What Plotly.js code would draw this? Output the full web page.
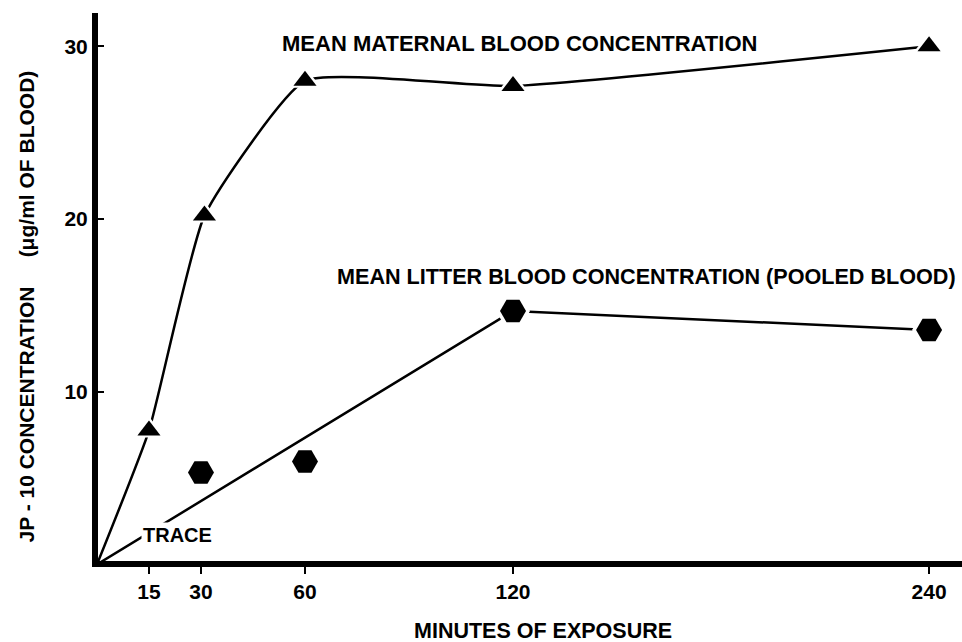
<!DOCTYPE html>
<html>
<head>
<meta charset="utf-8">
<script src="https://cdn.plot.ly/plotly-3.0.1.min.js"></script>
<style>html,body{margin:0;padding:0;background:#fff;}#chart{width:962px;height:642px;}</style>
</head>
<body>
<div id="chart"></div>
<script>
// ---- data ----
const maternalMinutes = [15, 31, 60, 120, 240];
const maternalConc    = [7.75, 20.2, 28.0, 27.7, 30.0];
const litterMinutes   = [30, 60, 120, 240];
const litterConc      = [5.33, 5.96, 14.68, 13.58];
// hand-drawn fitted lines start at the origin ("TRACE")
const originMinutes = [0];
const originConc    = [0];
const litterLineMinutes = [0, 120, 240];
const litterLineConc    = [0, 14.68, 13.58];
// tick labels
const xTickVals = [15, 30, 60, 120, 240];
const yTickVals = [10, 20, 30];
// text
const xTitle = 'MINUTES OF EXPOSURE';
const yTitle = 'JP - 10 CONCENTRATION\u00a0\u00a0\u00a0\u00a0\u00a0(\u03bcg/ml OF BLOOD)';
const maternalLabel = 'MEAN MATERNAL BLOOD CONCENTRATION';
const litterLabel = 'MEAN LITTER BLOOD CONCENTRATION (POOLED BLOOD)';
const traceLabel = 'TRACE';

const FAMILY = '"Liberation Sans", Arial, Helvetica, sans-serif';
const boldFont = (s) => ({family: FAMILY, size: s, color: '#000', weight: 'bold'});

const traces = [
  { // maternal smooth curve
    x: originMinutes.concat(maternalMinutes),
    y: originConc.concat(maternalConc),
    mode: 'lines', line: {color: '#000', width: 2.5, shape: 'spline', smoothing: 0.45},
    hoverinfo: 'skip', showlegend: false
  },
  { // litter straight line
    x: litterLineMinutes, y: litterLineConc,
    mode: 'lines', line: {color: '#000', width: 2.5},
    hoverinfo: 'skip', showlegend: false
  },
  { // white halos (gaps around markers)
    x: maternalMinutes, y: maternalConc, mode: 'markers',
    marker: {symbol: 'triangle-up', size: 28, color: '#fff'},
    hoverinfo: 'skip', showlegend: false
  },
  {
    x: litterMinutes, y: litterConc, mode: 'markers',
    marker: {symbol: 'hexagon2', size: 34, color: '#fff'},
    hoverinfo: 'skip', showlegend: false
  },
  {
    name: 'Maternal', x: maternalMinutes, y: maternalConc, mode: 'markers',
    marker: {symbol: 'triangle-up', size: 20, color: '#000'}, showlegend: false
  },
  {
    name: 'Litter', x: litterMinutes, y: litterConc, mode: 'markers',
    marker: {symbol: 'hexagon2', size: 26, color: '#000'}, showlegend: false
  }
];

const layout = {
  width: 962, height: 642,
  margin: {l: 98, r: 0, t: 13, b: 81, pad: 0},
  paper_bgcolor: '#fff', plot_bgcolor: '#fff',
  font: boldFont(20),
  showlegend: false,
  xaxis: {
    range: [0.3, 249.5], showgrid: false, zeroline: false,
    showline: true, linecolor: '#000', linewidth: 6,
    ticks: 'outside', ticklen: 7, tickwidth: 2, tickcolor: '#000',
    tickmode: 'array', tickvals: xTickVals, ticktext: xTickVals.map(String),
    tickfont: boldFont(21)
  },
  yaxis: {
    range: [0.2, 31.93], showgrid: false, zeroline: false,
    showline: true, linecolor: '#000', linewidth: 6,
    ticks: 'inside', ticklen: 6, tickwidth: 2, tickcolor: '#000',
    tickmode: 'array', tickvals: yTickVals, ticktext: yTickVals.map(String),
    tickfont: boldFont(21)
  },
  annotations: [
    {text: maternalLabel, xref: 'x', yref: 'y', x: 52.8, y: 30.15,
     xanchor: 'left', yanchor: 'middle', showarrow: false, font: boldFont(22)},
    {text: litterLabel, xref: 'x', yref: 'y', x: 248.3, y: 16.65,
     xanchor: 'right', yanchor: 'middle', showarrow: false, font: boldFont(21.6)},
    {text: traceLabel, xref: 'x', yref: 'y', x: 12.8, y: 1.68,
     xanchor: 'left', yanchor: 'middle', showarrow: false, font: boldFont(20),
     bgcolor: '#fff', borderpad: 1},
    {text: xTitle, xref: 'paper', yref: 'paper', x: 0.515, y: -0.128,
     xanchor: 'center', yanchor: 'middle', showarrow: false, font: boldFont(21.5)},
    {text: yTitle, xref: 'paper', yref: 'paper', x: -0.083, y: 0.465,
     xanchor: 'center', yanchor: 'middle', textangle: -90, showarrow: false, font: boldFont(21)}
  ]
};

Plotly.newPlot('chart', traces, layout, {displayModeBar: false, staticPlot: true});
</script>
</body>
</html>
